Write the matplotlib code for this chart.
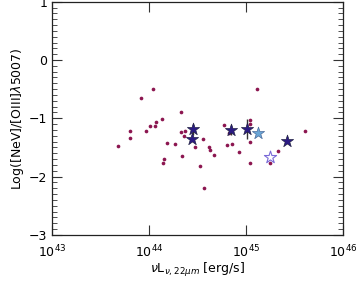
import numpy as np
import matplotlib
matplotlib.use('Agg')
import matplotlib.pyplot as plt
from matplotlib.ticker import MultipleLocator, LogLocator, NullLocator

# log10 of nuL_nu(22um) and Log([NeV]/[OIII]) for the comparison sample
dot_logL = [43.68, 43.80, 43.80, 43.92, 43.97, 44.01, 44.06, 44.04, 44.07, 44.13,
            44.14, 44.15, 44.18, 44.27, 44.33, 44.33, 44.37, 44.36, 44.34, 44.47,
            44.56, 44.62, 44.63, 44.67, 44.52, 44.57, 44.77, 44.82, 44.80, 44.85,
            44.93, 45.04, 45.04, 45.04, 45.04, 45.11, 45.33, 45.25, 45.61]
dot_ratio = [-1.47, -1.22, -1.33, -0.66, -1.22, -1.14, -1.14, -0.49, -1.07, -1.02,
             -1.76, -1.70, -1.42, -1.44, -0.90, -1.23, -1.22, -1.31, -1.64, -1.50,
             -1.35, -1.50, -1.55, -1.63, -1.82, -2.19, -1.12, -1.26, -1.46, -1.44,
             -1.58, -1.03, -1.10, -1.41, -1.76, -0.49, -1.56, -1.76, -1.22]

# our sources (dark stars) with errors
star_logL = [44.45, 44.44, 44.84, 45.01, 45.42]
star_ratio = [-1.19, -1.36, -1.20, -1.18, -1.39]
star_err = [0.10, 0.0, 0.09, 0.17, 0.0]

light_logL = [45.12]
light_ratio = [-1.25]
open_logL = [45.25]
open_ratio = [-1.67]

fig = plt.figure(figsize=(3.57, 2.81), dpi=100)
ax = fig.add_axes([0.146, 0.164, 0.815, 0.830])

ax.scatter(10**np.array(dot_logL), dot_ratio, s=7, color='#8c1650', zorder=2, linewidths=0)
ax.errorbar(10**np.array(star_logL), star_ratio, yerr=star_err, fmt='none',
            ecolor='#333333', elinewidth=1.0, zorder=3)
ax.scatter(10**np.array(star_logL), star_ratio, s=85, marker='*', color='#2b1a85',
           edgecolors='#222244', linewidths=0.5, zorder=4)
ax.scatter(10**np.array(light_logL), light_ratio, s=85, marker='*', color='#6aa6d6',
           edgecolors='#4a6a9a', linewidths=0.5, zorder=4)
ax.scatter(10**np.array(open_logL), open_ratio, s=85, marker='*', facecolors='white',
           edgecolors='#7a6ad8', linewidths=0.8, zorder=4)

ax.set_xscale('log')
ax.set_xlim(1e43, 1e46)
ax.set_ylim(-3, 1.0)
ax.xaxis.set_major_locator(LogLocator(base=10, numticks=10))
ax.xaxis.set_minor_locator(NullLocator())
ax.yaxis.set_major_locator(MultipleLocator(1))
ax.yaxis.set_minor_locator(MultipleLocator(0.1))
ax.tick_params(which='both', direction='in', top=True, right=True, labelsize=9,
               color='#333333')
ax.tick_params(which='major', length=7, width=0.8)
ax.tick_params(which='minor', length=3.5, width=0.6)
ax.tick_params(axis='x', which='major', pad=6)
for s in ax.spines.values():
    s.set_linewidth(0.9)
    s.set_color('#222222')

ax.set_xlabel(r'$\nu$L$_{\nu,22\mu m}$ [erg/s]', fontsize=9, labelpad=1)
ax.set_ylabel(r'Log([NeV]/[OIII]$\lambda$5007)', fontsize=9, labelpad=2)

fig.savefig('out.png', dpi=100)
